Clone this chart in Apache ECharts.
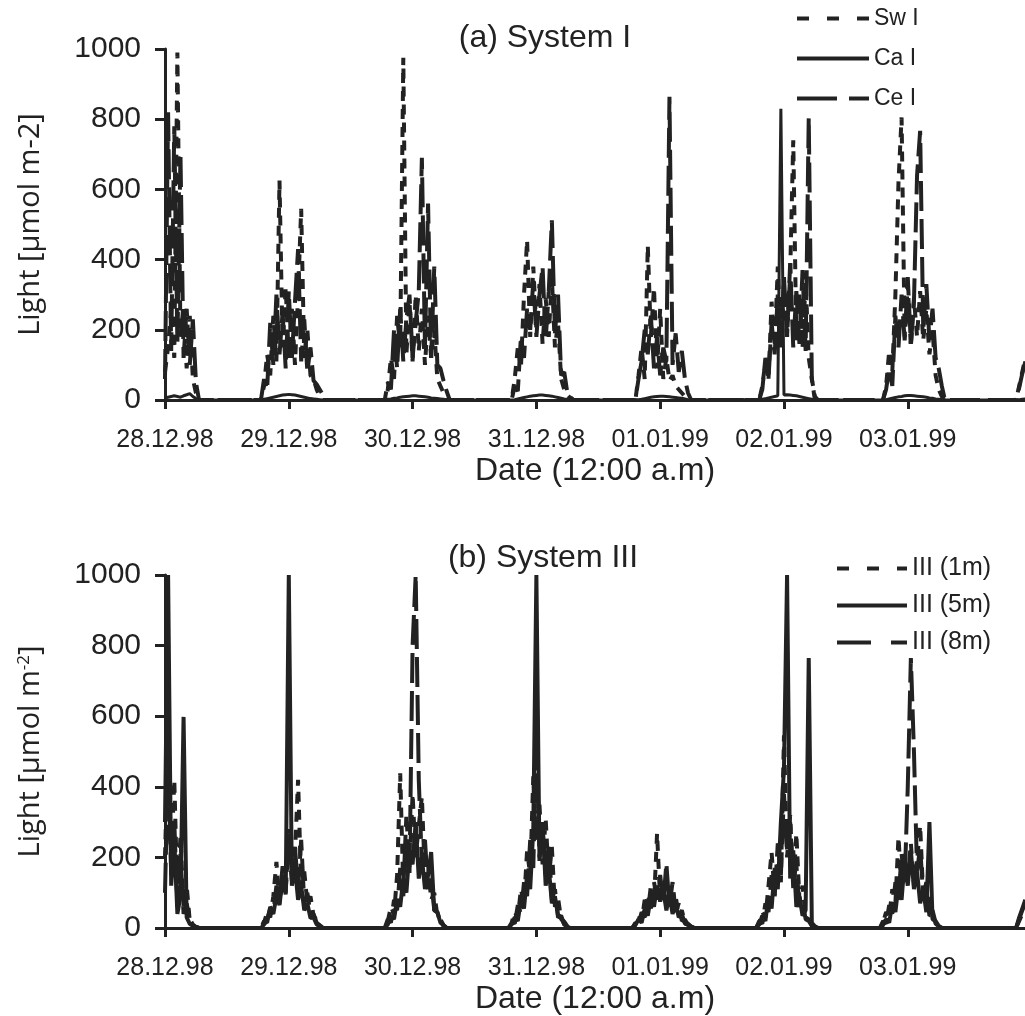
<!DOCTYPE html>
<html>
<head>
<meta charset="utf-8">
<script src="https://cdn.jsdelivr.net/npm/echarts@6/dist/echarts.min.js"></script>
<style>
  html, body { margin: 0; padding: 0; background: #fff; }
  #chart { width: 1025px; height: 1016px; }
</style>
</head>
<body>
<div id="chart"></div>
<script>
// Tick labels: one per day, noon readings
const dateLabels = ['28.12.98', '29.12.98', '30.12.98', '31.12.98', '01.01.99', '02.01.99', '03.01.99'];

// Sampling step of the logger, in days (36 min)
const STEP = 0.025;

// Start of each daylight window, days after 28.12.98 12:00
const dayStartI = [0, 0.775, 1.775, 2.8, 3.8, 4.8, 5.8, 6.875];
const dayStartIII = [0, 0.775, 1.775, 2.775, 3.775, 4.775, 5.775, 6.875];

// System I, light in µmol m-2, one list per daylight window
const swI = [
  [80, 150, 260, 120, 990, 180, 270, 90, 240, 60, 20, 0],
  [0, 40, 130, 70, 240, 110, 625, 150, 320, 120, 260, 100, 300, 545, 120, 200, 70, 60, 30, 10, 0, 0],
  [0, 30, 120, 60, 240, 150, 975, 130, 280, 110, 300, 140, 260, 100, 240, 120, 200, 60, 40, 20, 5, 0],
  [0, 60, 150, 90, 300, 455, 180, 380, 200, 330, 160, 290, 180, 350, 150, 220, 60, 30, 15, 5, 0],
  [0, 70, 150, 60, 440, 180, 320, 90, 260, 60, 120, 55, 70, 40, 30, 20, 10, 5, 0],
  [0, 40, 110, 60, 280, 150, 380, 160, 320, 180, 360, 740, 170, 300, 150, 340, 120, 60, 10, 0],
  [0, 40, 140, 80, 300, 620, 805, 180, 330, 150, 290, 180, 310, 170, 260, 130, 200, 70, 30, 10, 0],
  [0, 40, 80, 120]
];
const caI = [
  [5, 8, 10, 12, 10, 8, 12, 15, 18, 10, 4, 0],
  [0, 2, 4, 6, 8, 10, 12, 14, 15, 16, 15, 14, 12, 10, 8, 6, 4, 3, 2, 1, 0, 0],
  [0, 2, 3, 5, 6, 8, 9, 10, 11, 12, 12, 11, 10, 9, 8, 6, 5, 4, 3, 2, 1, 0],
  [0, 1, 3, 5, 7, 9, 11, 12, 13, 14, 14, 13, 12, 11, 9, 7, 5, 3, 2, 1, 0],
  [0, 1, 2, 4, 6, 8, 9, 10, 11, 11, 10, 9, 8, 7, 6, 5, 3, 1, 0],
  [0, 2, 4, 6, 8, 10, 12, 830, 14, 15, 14, 13, 12, 10, 8, 6, 4, 2, 1, 0],
  [0, 1, 3, 5, 7, 9, 10, 12, 13, 13, 12, 11, 10, 9, 8, 6, 5, 3, 2, 1, 0],
  [0, 1, 2, 3]
];
const ceI = [
  [60, 820, 140, 780, 160, 700, 120, 260, 100, 230, 50, 0],
  [0, 60, 30, 220, 100, 300, 130, 250, 90, 310, 120, 280, 430, 110, 230, 80, 150, 55, 45, 30, 15, 0],
  [0, 50, 30, 200, 90, 260, 110, 230, 300, 120, 220, 310, 690, 150, 560, 120, 380, 100, 90, 55, 25, 0],
  [0, 40, 25, 180, 120, 260, 200, 340, 180, 300, 380, 170, 310, 512, 190, 300, 70, 80, 20, 8, 0],
  [0, 60, 110, 200, 130, 240, 90, 180, 70, 150, 110, 864, 100, 190, 80, 140, 60, 20, 0],
  [0, 30, 120, 60, 220, 130, 300, 150, 350, 180, 390, 150, 310, 160, 370, 140, 805, 60, 0, 0],
  [0, 30, 90, 40, 240, 150, 300, 170, 350, 160, 280, 640, 767, 200, 330, 170, 260, 120, 90, 40, 0],
  [0, 35, 75, 110]
];

// System III, sensors at 1 m, 5 m and 8 m depth
const iii1m = [
  [200, 550, 180, 420, 90, 260, 60, 120, 20, 8, 3, 0],
  [0, 15, 45, 30, 90, 187, 70, 150, 110, 240, 130, 210, 420, 120, 160, 70, 90, 35, 22, 8, 0],
  [0, 20, 60, 40, 150, 438, 110, 320, 170, 380, 200, 290, 372, 140, 180, 80, 100, 35, 25, 8, 0],
  [0, 15, 45, 30, 110, 70, 220, 150, 430, 250, 350, 180, 310, 140, 230, 60, 85, 25, 18, 5, 0],
  [0, 12, 35, 20, 80, 45, 120, 70, 268, 80, 130, 60, 110, 45, 90, 35, 50, 15, 12, 4, 0],
  [0, 15, 45, 30, 120, 215, 90, 180, 130, 546, 200, 320, 110, 268, 80, 120, 30, 25, 8, 3, 0],
  [0, 15, 45, 30, 110, 70, 258, 110, 210, 140, 240, 120, 190, 290, 90, 110, 35, 40, 12, 5, 0],
  [0, 20, 40, 60]
];
const iii5m = [
  [300, 1000, 120, 250, 40, 90, 598, 30, 12, 6, 2, 0],
  [0, 10, 25, 55, 40, 90, 65, 140, 95, 1000, 120, 170, 80, 120, 50, 70, 28, 30, 10, 4, 0],
  [0, 10, 35, 25, 80, 60, 140, 100, 220, 180, 300, 140, 200, 110, 150, 215, 50, 45, 15, 8, 0],
  [0, 10, 30, 20, 80, 55, 150, 110, 280, 1000, 190, 300, 120, 170, 70, 90, 35, 30, 10, 4, 0],
  [0, 8, 25, 15, 55, 35, 90, 60, 120, 75, 110, 50, 95, 40, 70, 30, 40, 12, 10, 3, 0],
  [0, 10, 35, 20, 90, 55, 170, 110, 300, 450, 1000, 140, 220, 60, 90, 35, 50, 765, 15, 5, 0],
  [0, 8, 25, 15, 70, 45, 120, 80, 190, 120, 220, 110, 160, 70, 110, 45, 300, 25, 20, 6, 0],
  [0, 30, 55, 80]
];
const iii8m = [
  [100, 480, 150, 300, 60, 210, 40, 70, 25, 10, 3, 0],
  [0, 20, 15, 60, 45, 120, 80, 175, 100, 280, 150, 230, 110, 250, 70, 100, 40, 40, 15, 8, 0],
  [0, 25, 15, 80, 50, 170, 90, 260, 150, 800, 1000, 420, 180, 250, 110, 140, 50, 45, 15, 6, 0],
  [0, 20, 12, 65, 40, 130, 90, 250, 170, 550, 200, 280, 150, 240, 80, 110, 30, 35, 10, 4, 0],
  [0, 15, 10, 45, 30, 95, 55, 130, 80, 150, 70, 183, 60, 130, 45, 70, 20, 24, 8, 4, 0],
  [0, 20, 12, 70, 45, 150, 90, 240, 150, 380, 220, 300, 130, 180, 60, 75, 25, 20, 6, 2, 0],
  [0, 20, 12, 65, 40, 130, 80, 210, 130, 400, 765, 500, 160, 230, 90, 130, 45, 50, 15, 6, 0],
  [0, 25, 50, 70]
];

const INK = '#222222';
const SHORT_DASH = [10, 8];
const LONG_DASH = [30, 8];
const TICKS = dateLabels.map((_, i) => i);
const X_MAX = 6.947;

// Turn the per-window lists into [time, value] pairs
function toPairs(starts, windows) {
  const out = [];
  windows.forEach((vals, d) => {
    vals.forEach((v, i) => out.push([+(starts[d] + i * STEP).toFixed(4), v]));
  });
  return out;
}

function xAxisFor(gridIndex) {
  return {
    type: 'value', gridIndex, min: 0, max: X_MAX,
    axisLine: { show: true, onZero: false, lineStyle: { color: INK, width: 3 } },
    axisTick: { show: true, customValues: TICKS, length: 9, lineStyle: { color: INK, width: 3 } },
    axisLabel: {
      customValues: TICKS, formatter: v => dateLabels[Math.round(v)] || '',
      margin: 28, fontSize: 25, color: INK, fontFamily: 'Liberation Sans'
    },
    splitLine: { show: false },
    name: 'Date (12:00 a.m)', nameLocation: 'middle', nameGap: 55,
    nameTextStyle: { fontSize: 32, color: INK, fontFamily: 'Liberation Sans' }
  };
}

function yAxisFor(gridIndex, name, rich) {
  return {
    type: 'value', gridIndex, min: 0, max: 1000, interval: 200,
    axisLine: { show: true, lineStyle: { color: INK, width: 3 } },
    axisTick: { show: true, length: 10, lineStyle: { color: INK, width: 3 } },
    axisLabel: { margin: 24, fontSize: 30, color: INK, fontFamily: 'Liberation Sans', formatter: v => String(v) },
    splitLine: { show: false },
    name, nameLocation: 'middle', nameGap: 120,
    nameTextStyle: { fontSize: 29, color: INK, fontFamily: 'Open Sans', rich }
  };
}

function lineSeries(name, data, dash, axisIndex, width) {
  return {
    name, type: 'line', xAxisIndex: axisIndex, yAxisIndex: axisIndex, data,
    showSymbol: false, symbol: 'none', silent: true, clip: true,
    emphasis: { disabled: true },
    itemStyle: { color: INK },
    lineStyle: { color: INK, width: width || 4, type: dash, join: 'bevel' }
  };
}

const legendBase = {
  orient: 'vertical', itemHeight: 14, selectedMode: false,
  itemStyle: { opacity: 0 }
};

const chart = echarts.init(document.getElementById('chart'));
chart.setOption({
  animation: false,
  backgroundColor: '#ffffff',
  title: [
    { text: '(a) System I', left: 540, top: 17, textAlign: 'center',
      textStyle: { fontSize: 32, fontWeight: 'normal', color: INK, fontFamily: 'Liberation Sans' } },
    { text: '(b) System III', left: 538, top: 537, textAlign: 'center',
      textStyle: { fontSize: 32, fontWeight: 'normal', color: INK, fontFamily: 'Liberation Sans' } }
  ],
  legend: [
    Object.assign({}, legendBase, {
      left: 790, top: 2, itemWidth: 72, itemGap: 17,
      textStyle: { fontSize: 23, color: INK, fontFamily: 'Liberation Sans' },
      data: [
        { name: 'Sw I', lineStyle: { type: [12, 18], width: 4 } },
        { name: 'Ca I', lineStyle: { type: 'solid', width: 4 } },
        { name: 'Ce I', lineStyle: { type: [40, 12], width: 4 } }
      ]
    }),
    Object.assign({}, legendBase, {
      left: 830, top: 551, itemWidth: 70, itemGap: 12,
      textStyle: { fontSize: 25, color: INK, fontFamily: 'Liberation Sans' },
      data: [
        { name: 'III (1m)', lineStyle: { type: [12, 18], width: 4 } },
        { name: 'III (5m)', lineStyle: { type: 'solid', width: 4 } },
        { name: 'III (8m)', lineStyle: { type: [34, 20], width: 4 } }
      ]
    })
  ],
  grid: [
    { left: 165, right: 0, top: 49, height: 351 },
    { left: 165, right: 0, top: 575, height: 353 }
  ],
  xAxis: [xAxisFor(0), xAxisFor(1)],
  yAxis: [
    yAxisFor(0, 'Light [µmol m-2]'),
    yAxisFor(1, 'Light [µmol m{sup|-2}]', { sup: { fontSize: 17, verticalAlign: 'top', padding: [0, 0, 12, 0], fontFamily: 'Open Sans', color: INK } })
  ],
  series: [
    lineSeries('Ca I', toPairs(dayStartI, caI), 'solid', 0, 3),
    lineSeries('Sw I', toPairs(dayStartI, swI), SHORT_DASH, 0),
    lineSeries('Ce I', toPairs(dayStartI, ceI), LONG_DASH, 0),
    lineSeries('III (5m)', toPairs(dayStartIII, iii5m), 'solid', 1),
    lineSeries('III (1m)', toPairs(dayStartIII, iii1m), SHORT_DASH, 1),
    lineSeries('III (8m)', toPairs(dayStartIII, iii8m), LONG_DASH, 1)
  ]
});
</script>
</body>
</html>
